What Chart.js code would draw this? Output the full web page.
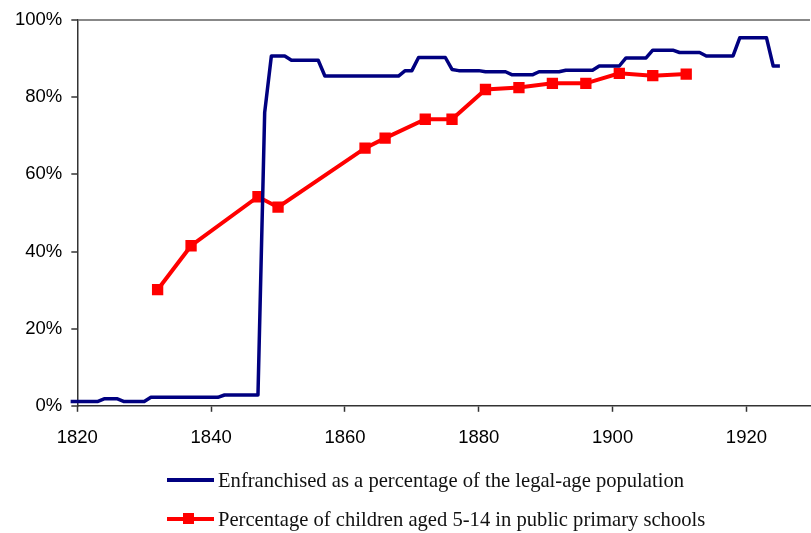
<!DOCTYPE html>
<html lang="en">
<head>
  <meta charset="UTF-8">
  <script src="https://cdn.jsdelivr.net/npm/chart.js"></script>
  <title>Enfranchisement and schooling</title>
  <style>
    html, body { margin: 0; padding: 0; background: #fff; overflow: hidden; }
    .wrap { position: relative; width: 811px; height: 533px; overflow: hidden; }
    .grafico { position: absolute; left: 0; top: 0; width: 818px; height: 464px; }
    .legenda { position: absolute; left: 0; top: 0; width: 811px; height: 533px; pointer-events: none;
               font-family: "Liberation Serif", "Times New Roman", serif; font-size: 20.6px; color: #111; }
    .item { position: absolute; left: 167px; height: 24px; line-height: 24px; white-space: nowrap; }
    .item .amostra { position: absolute; left: 0; top: 10px; width: 47px; height: 4px; }
    .item .quadrado { position: absolute; left: 16px; top: 6px; width: 11px; height: 11px; background: #ff0000; }
    .item .texto { position: absolute; left: 51px; top: 0; }
  </style>
</head>
<body>
  <div class="wrap">
    <div class="grafico">
      <canvas id="graficoVoto" width="818" height="464"></canvas>
    </div>
    <div class="legenda">
      <div class="item" style="top: 468px;">
        <span class="amostra" style="background: #000080;"></span>
        <span class="texto">Enfranchised as a percentage of the legal-age population</span>
      </div>
      <div class="item" style="top: 507px;">
        <span class="amostra" style="background: #ff0000;"></span>
        <span class="quadrado"></span>
        <span class="texto">Percentage of children aged 5-14 in public primary schools</span>
      </div>
    </div>
  </div>

  <script>
    // enfranchised share of legal-age population (%)
    const anosVoto = [1819, 1820, 1823, 1824, 1826, 1827, 1830, 1831, 1841, 1842, 1847, 1848, 1849, 1851,
      1852, 1856, 1857, 1868, 1869, 1870, 1871, 1875, 1876, 1877, 1880, 1881, 1884, 1885, 1888, 1889,
      1892, 1893, 1897, 1898, 1901, 1902, 1905, 1906, 1909, 1910, 1913, 1914, 1918, 1919, 1923, 1924, 1925];
    const valoresVoto = [1.1, 1.1, 1.1, 1.8, 1.8, 1.1, 1.1, 2.2, 2.2, 2.8, 2.8, 76, 90.7, 90.7,
      89.6, 89.6, 85.5, 85.5, 86.9, 86.9, 90.3, 90.3, 87.2, 86.9, 86.9, 86.6, 86.6, 85.8, 85.8, 86.6,
      86.6, 87, 87, 88.1, 88.1, 90.2, 90.2, 92.2, 92.2, 91.6, 91.6, 90.7, 90.7, 95.4, 95.4, 88.1, 88.1];

    // children aged 5-14 in public primary schools (%)
    const anosEscola = [1832, 1837, 1847, 1850, 1863, 1866, 1872, 1876, 1881, 1886, 1891, 1896, 1901, 1906, 1911];
    const valoresEscola = [30.1, 41.5, 54.2, 51.5, 66.8, 69.4, 74.3, 74.3, 82.0, 82.5, 83.6, 83.6, 86.2, 85.6, 86.0];

    const ticksX = [1820, 1840, 1860, 1880, 1900, 1920];
    const ticksY = [0, 20, 40, 60, 80, 100];

    function pontos(xs, ys) {
      const out = [];
      for (let i = 0; i < xs.length; i++) {
        out.push({ x: xs[i], y: ys[i] });
      }
      return out;
    }

    const fonteEixo = { family: "'Liberation Sans', Arial, sans-serif", size: 18.5 };

    const ctx = document.getElementById("graficoVoto").getContext("2d");
    const myChart = new Chart(ctx, {
      type: "line",
      data: {
        datasets: [{
          label: "Enfranchised as a percentage of the legal-age population",
          data: pontos(anosVoto, valoresVoto),
          borderColor: "#000080",
          borderWidth: 3.5,
          borderJoinStyle: "round",
          pointRadius: 0,
          tension: 0,
          clip: false
        }, {
          label: "Percentage of children aged 5-14 in public primary schools",
          data: pontos(anosEscola, valoresEscola),
          borderColor: "#ff0000",
          backgroundColor: "#ff0000",
          borderWidth: 4,
          pointStyle: "rect",
          pointRadius: 8,
          pointBorderWidth: 0,
          tension: 0
        }]
      },
      options: {
        responsive: false,
        animation: false,
        layout: { padding: { left: 6, top: 20, right: 0, bottom: 0 } },
        plugins: {
          legend: { display: false },
          tooltip: { enabled: false }
        },
        scales: {
          x: {
            type: "linear",
            min: 1820,
            max: 1929.5,
            afterBuildTicks: axis => { axis.ticks = ticksX.map(v => ({ value: v })); },
            ticks: {
              callback: v => String(v),
              color: "#000",
              font: fonteEixo,
              padding: 15,
              maxRotation: 0
            },
            grid: { drawOnChartArea: false, tickLength: 6, tickColor: "#333", tickWidth: 1.5 },
            border: { color: "#333", width: 1.5 }
          },
          y: {
            min: 0,
            max: 100,
            afterBuildTicks: axis => { axis.ticks = ticksY.map(v => ({ value: v })); },
            ticks: {
              callback: v => v + "%",
              color: "#000",
              font: fonteEixo,
              padding: 9
            },
            grid: {
              color: c => (c.tick && c.tick.value === 100 ? "#888" : "rgba(0,0,0,0)"),
              lineWidth: 2,
              tickLength: 6,
              tickColor: "#333",
              tickWidth: 1.5
            },
            border: { color: "#333", width: 1.5 }
          }
        }
      }
    });
  </script>
</body>
</html>
